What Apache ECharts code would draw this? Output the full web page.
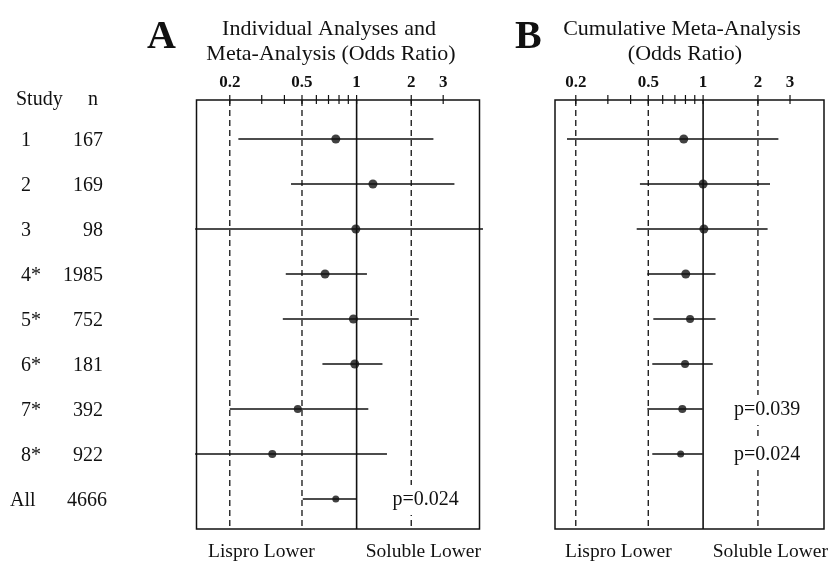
<!DOCTYPE html>
<html><head><meta charset="utf-8">
<script src="https://cdn.jsdelivr.net/npm/echarts@6/dist/echarts.min.js"></script>
<style>html,body{margin:0;padding:0;background:#fff}#c{width:830px;height:562px}</style>
</head><body><div id="c"></div>
<script>
// ---- data ----
const rows = [1, 2, 3, 4, 5, 6, 7, 8, 9];
const studyLabels = ['1', '2', '3', '4*', '5*', '6*', '7*', '8*', 'All'];
const nLabels = ['167', '169', '98', '1985', '752', '181', '392', '922', '4666'];
// Panel A: individual analyses and meta-analysis (odds ratio)
const aEst  = [0.768, 1.23, 0.99, 0.67, 0.96, 0.977, 0.474, 0.343, 0.768];
const aLow  = [0.223, 0.435, 0.1288, 0.407, 0.392, 0.648, 0.2, 0.1288, 0.505];
const aHigh = [2.65, 3.46, 4.97, 1.14, 2.20, 1.388, 1.16, 1.47, 1.0];
// Panel B: cumulative meta-analysis (odds ratio)
const bEst  = [0.783, 1.0, 1.01, 0.803, 0.848, 0.796, 0.769, 0.753];
const bLow  = [0.179, 0.45, 0.432, 0.494, 0.533, 0.526, 0.494, 0.526];
const bHigh = [2.59, 2.33, 2.26, 1.17, 1.17, 1.13, 0.995, 0.995];
const tickValues = [0.2, 0.3, 0.4, 0.5, 0.6, 0.7, 0.8, 0.9, 1, 2, 3];
const tickLabels = ['0.2', '0.5', '1', '2', '3'];
const refDashed = [0.2, 0.5, 2];
const refSolid = [1];
const pTextA = ['p=0.024'];
const pRowA = [9];
const pTextB = ['p=0.039', 'p=0.024'];
const pRowB = [7, 8];

// ---- chart ----
const SERIF = '"Liberation Serif","Times New Roman",serif';
const INK = '#111';
const chart = echarts.init(document.getElementById('c'), null, {renderer: 'canvas'});

function txt(text, x, y, align, font, extra) {
  const style = {text: text, font: font, fill: INK,
    align: align, verticalAlign: 'middle', textAlign: align, textVerticalAlign: 'middle'};
  if (extra) Object.assign(style, extra);
  return {type: 'text', x: x, y: y, style: style};
}
function vLine(dashed) {
  return function (params, api) {
    const x = api.coord([api.value(0), 1])[0];
    const cs = params.coordSys;
    const style = {stroke: INK, lineWidth: dashed ? 1.3 : 1.6};
    if (dashed) style.lineDash = [6, 4];
    return {type: 'line', shape: {x1: x, y1: cs.y, x2: x, y2: cs.y + cs.height}, style: style};
  };
}
function ciRender(params, api) {
  const p1 = api.coord([api.value(0), api.value(2)]);
  const p2 = api.coord([api.value(1), api.value(2)]);
  return {type: 'line', shape: {x1: p1[0], y1: p1[1], x2: p2[0], y2: p2[1]},
    style: {stroke: INK, lineWidth: 1.4}};
}
function tickRender(params, api) {
  const x = api.coord([api.value(0), 1])[0];
  const top = params.coordSys.y;
  return {type: 'line', shape: {x1: x, y1: top - 5, x2: x, y2: top + 4},
    style: {stroke: INK, lineWidth: 1.2}};
}
function tickLabelRender(params, api) {
  const x = api.coord([api.value(0), 1])[0];
  const top = params.coordSys.y;
  return txt(tickLabels[params.dataIndex], x, top - 17, 'center', 'bold 17px ' + SERIF);
}
function pRender(texts, xOff) {
  return function (params, api) {
    const y = api.coord([1, api.value(1)])[1];
    return txt(texts[params.dataIndex], params.coordSys.x + xOff, y + 1, 'left', '20px ' + SERIF,
      {backgroundColor: '#fff', padding: [5, 1, 5, 1]});
  };
}

const yMin = 0.1333, yMax = 9.6667;
function panelSeries(ax, est, low, high, sizes) {
  return [
    {type: 'custom', xAxisIndex: ax, yAxisIndex: ax, clip: false, silent: true,
      data: refDashed.map(v => [v, 1]), renderItem: vLine(true), z: 1},
    {type: 'custom', xAxisIndex: ax, yAxisIndex: ax, clip: false, silent: true,
      data: refSolid.map(v => [v, 1]), renderItem: vLine(false), z: 1},
    {type: 'custom', xAxisIndex: ax, yAxisIndex: ax, clip: false, silent: true,
      data: tickValues.map(v => [v, 1]), renderItem: tickRender, z: 3},
    {type: 'custom', xAxisIndex: ax, yAxisIndex: ax, clip: false, silent: true,
      data: tickLabels.map(t => [Number(t), 1]),
      renderItem: tickLabelRender, z: 3},
    {type: 'custom', xAxisIndex: ax, yAxisIndex: ax, clip: false, silent: true,
      encode: {x: [0, 1], y: 2},
      data: low.map((lo, i) => [lo, high[i], rows[i]]), renderItem: ciRender, z: 4},
    {type: 'scatter', xAxisIndex: ax, yAxisIndex: ax, silent: true, z: 5,
      symbol: 'circle',
      symbolSize: (v, p) => sizes[p.dataIndex],
      itemStyle: {color: INK},
      data: est.map((v, i) => [v, rows[i]])}
  ];
}

const series = []
  .concat(panelSeries(0, aEst, aLow, aHigh, [9, 9, 9, 9, 9, 9, 8, 8, 7]))
  .concat(panelSeries(1, bEst, bLow, bHigh, [9, 9, 9, 9, 8, 8, 8, 7]));

// row labels (study, n) next to panel A
series.push({type: 'custom', xAxisIndex: 0, yAxisIndex: 0, clip: false, silent: true,
  data: rows.map((r, i) => [1, r]),
  renderItem: function (params, api) {
    const i = params.dataIndex;
    const y = api.coord([1, api.value(1)])[1] + 2;
    const summary = i === rows.length - 1;
    return {type: 'group', children: [
      txt(studyLabels[i], summary ? 10 : 21, y, 'left', '20px ' + SERIF),
      txt(nLabels[i], summary ? 107 : 103, y, 'right', '20px ' + SERIF)
    ]};
  }});
series.push({type: 'custom', xAxisIndex: 0, yAxisIndex: 0, clip: false, silent: true, z: 6,
  data: pRowA.map(r => [1, r]), renderItem: pRender(pTextA, 195)});
series.push({type: 'custom', xAxisIndex: 1, yAxisIndex: 1, clip: false, silent: true, z: 6,
  data: pRowB.map(r => [1, r]), renderItem: pRender(pTextB, 178)});

const axisOff = {show: true, axisLine: {show: false}, axisTick: {show: false},
  axisLabel: {show: false}, splitLine: {show: false}};

chart.setOption({
  animation: false,
  backgroundColor: '#fff',
  grid: [
    {left: 196.5, top: 100, width: 283, height: 429, show: true, borderColor: INK, borderWidth: 1.5},
    {left: 555, top: 100, width: 269, height: 429, show: true, borderColor: INK, borderWidth: 1.5}
  ],
  xAxis: [
    Object.assign({type: 'log', logBase: 10, gridIndex: 0, min: 0.1311, max: 4.756, position: 'top'}, axisOff),
    Object.assign({type: 'log', logBase: 10, gridIndex: 1, min: 0.1538, max: 4.61, position: 'top'}, axisOff)
  ],
  yAxis: [
    Object.assign({type: 'value', gridIndex: 0, min: yMin, max: yMax, inverse: true}, axisOff),
    Object.assign({type: 'value', gridIndex: 1, min: yMin, max: yMax, inverse: true}, axisOff)
  ],
  graphic: [
    txt('A', 147, 38, 'left', 'bold 40px ' + SERIF),
    txt('B', 515, 38, 'left', 'bold 40px ' + SERIF),
    txt('Individual Analyses and', 329, 29, 'center', '22px ' + SERIF),
    txt('Meta-Analysis (Odds Ratio)', 331, 54, 'center', '22px ' + SERIF),
    txt('Cumulative Meta-Analysis', 682, 29, 'center', '22px ' + SERIF),
    txt('(Odds Ratio)', 685, 54, 'center', '22px ' + SERIF),
    txt('Study', 16, 100, 'left', '20px ' + SERIF),
    txt('n', 88, 100, 'left', '20px ' + SERIF),
    txt('Lispro Lower', 208, 552, 'left', '19.5px ' + SERIF),
    txt('Soluble Lower', 481, 552, 'right', '19.5px ' + SERIF),
    txt('Lispro Lower', 565, 552, 'left', '19.5px ' + SERIF),
    txt('Soluble Lower', 828, 552, 'right', '19.5px ' + SERIF)
  ],
  series: series
});
</script>
</body></html>
